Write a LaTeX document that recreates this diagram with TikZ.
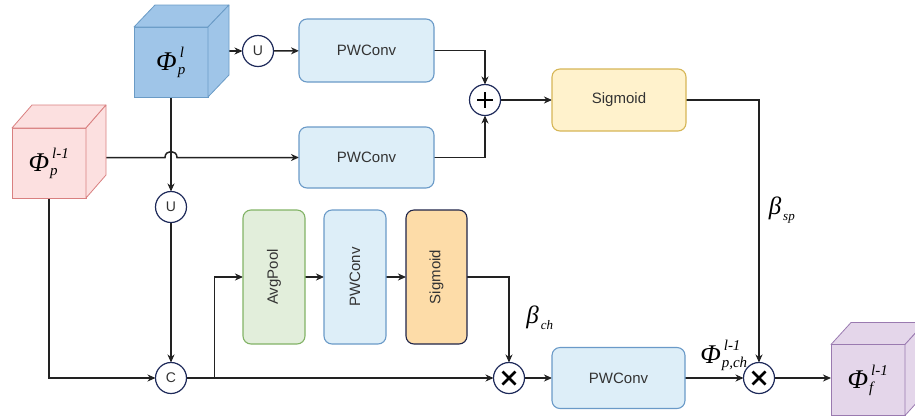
\documentclass[tikz,border=0pt]{standalone}
\usepackage{fontspec}
\setmainfont{Liberation Serif}
\setsansfont{Liberation Sans}
\usetikzlibrary{arrows.meta,calc}
\definecolor{lc}{HTML}{222222}
\definecolor{tc}{HTML}{333333}
\definecolor{pwf}{HTML}{DDEEF8}
\definecolor{pwd}{HTML}{6A9AC8}
\definecolor{sgf}{HTML}{FFF2CC}
\definecolor{sgd}{HTML}{D6B656}
\definecolor{avf}{HTML}{E2EEDB}
\definecolor{avd}{HTML}{82B366}
\definecolor{sof}{HTML}{FDDCA8}
\definecolor{sod}{HTML}{1F2448}
\definecolor{opd}{HTML}{1E2A5A}
\definecolor{bcf}{HTML}{9FC5E8}
\definecolor{bcd}{HTML}{6A9BC6}
\definecolor{pcf}{HTML}{FCE0E0}
\definecolor{pcd}{HTML}{D98080}
\definecolor{fcf}{HTML}{E4D6EA}
\definecolor{fcd}{HTML}{9A7AB0}
\newcommand\PhiLab[2]{$\hbox{\fontsize{27}{27}\selectfont\itshape Φ}^{\hbox{\kern3pt\fontsize{15}{15}\selectfont\itshape #1}}_{\hbox{\kern1pt\fontsize{15}{15}\selectfont\itshape #2}}$}
\newcommand\BetaLab[1]{$\hbox{\fontsize{25}{25}\selectfont\itshape β}_{\hbox{\kern2pt\fontsize{13}{13}\selectfont\itshape #1}}$}
\pgfdeclarelayer{bg}
\pgfsetlayers{bg,main}
\begin{document}
\begin{tikzpicture}[x=1pt,y=-1pt,
  line/.style={draw=lc, line width=1.5pt},
  arr/.style={line, -{Stealth[length=8pt,width=7pt,inset=2.5pt]}},
  box/.style={rounded corners=8pt, line width=1.1pt, font=\sffamily\fontsize{15}{17}\selectfont, text=tc, inner sep=0pt, outer sep=0pt},
  pw/.style={box, fill=pwf, draw=pwd},
  op/.style={circle, draw=opd, fill=white, line width=1.2pt, minimum size=31pt, inner sep=0pt, outer sep=0pt, font=\sffamily\fontsize{14}{14}\selectfont, text=tc},
  cubef/.style={line width=0.8pt, minimum width=74pt, minimum height=70pt, inner sep=0pt, outer sep=0pt, font=\fontsize{15}{15}\selectfont},
  cubes/.style={line width=0.8pt, line join=round},
  mlab/.style={inner sep=0pt, font=\fontsize{15}{15}\selectfont}]
\useasboundingbox (0,0) rectangle (915,416);
\clip (0,0) rectangle (915,416);
% cubes
\node[cubef, fill=bcf, draw=bcd] (bc) at (171,62) {\PhiLab{l}{p}};
\draw[cubes, fill=bcf, draw=bcd] (bc.north west) -- ++(21,-22) -- ++(74,0) -- (bc.north east) -- cycle;
\draw[cubes, fill=bcf, draw=bcd] (bc.north east) -- ++(21,-22) -- ++(0,70) -- (bc.south east) -- cycle;
\node[cubef, fill=pcf, draw=pcd] (pc) at (49,163) {\PhiLab{l-1}{p}};
\draw[cubes, fill=pcf, draw=pcd] (pc.north west) -- ++(20,-23) -- ++(74,0) -- (pc.north east) -- cycle;
\draw[cubes, fill=pcf, draw=pcd] (pc.north east) -- ++(20,-23) -- ++(0,70) -- (pc.south east) -- cycle;
\node[cubef, fill=fcf, draw=fcd, minimum height=71pt] (fc) at (868,380) {\PhiLab{l-1}{f}};
\draw[cubes, fill=fcf, draw=fcd] (fc.north west) -- ++(20,-22) -- ++(74,0) -- (fc.north east) -- cycle;
\draw[cubes, fill=fcf, draw=fcd] (fc.north east) -- ++(20,-22) -- ++(0,71) -- (fc.south east) -- cycle;
% boxes
\node[pw, minimum width=135pt, minimum height=63pt] (pw1) at (366.5,50.5) {PWConv};
\node[pw, minimum width=135pt, minimum height=61pt] (pw2) at (366.5,157.5) {PWConv};
\node[box, fill=sgf, draw=sgd, minimum width=134pt, minimum height=62pt] (sg1) at (619,100) {Sigmoid};
\node[box, fill=avf, draw=avd, minimum width=62pt, minimum height=134pt] (avg) at (274,277) {\rotatebox{90}{AvgPool}};
\node[pw, minimum width=62pt, minimum height=134pt] (pwv) at (355,277) {\rotatebox{90}{PWConv}};
\node[box, fill=sof, draw=sod, minimum width=61pt, minimum height=134pt] (sg2) at (436.5,277) {\rotatebox{90}{Sigmoid}};
\node[pw, minimum width=133pt, minimum height=61pt] (pw3) at (618.5,378) {PWConv};
% operators
\node[op] (u1) at (258,51) {U};
\node[op] (u2) at (171,207) {U};
\node[op] (c) at (171,378) {C};
\node[op] (plus) at (485,100) {};
\node[op] (x1) at (509,378) {};
\node[op] (x2) at (759,378) {};
\draw[line width=2.6pt, draw=black] ($(plus)+(-8,0)$) -- ($(plus)+(8,0)$) ($(plus)+(0,-8)$) -- ($(plus)+(0,8)$);
\foreach \n in {x1,x2}{
  \draw[line width=2.6pt, draw=black] ($(\n)+(-6.5,-6.5)$) -- ($(\n)+(6.5,6.5)$) ($(\n)+(-6.5,6.5)$) -- ($(\n)+(6.5,-6.5)$);
}
% labels
\node[mlab] (bsp) at (782,210) {\BetaLab{sp}};
\node[mlab] (bch) at (540,318) {\BetaLab{ch}};
\node[mlab] (pch) at (724,355) {\PhiLab{l-1}{p,ch}};
% connectors
\coordinate (h1) at ($(bc.south |- pw2.west)+(-6,0)$);
\coordinate (h2) at ($(bc.south |- pw2.west)+(6,0)$);
\coordinate (br) at ($(c.east)+(28,0)$);
\begin{pgfonlayer}{bg}
\draw[arr] (bc.east |- u1.west) -- (u1);
\draw[arr] (u1) -- (pw1);
\draw[arr] (pw1.east) -| (plus.north);
\draw[arr] (pw2.east) -| (plus.south);
\draw[arr] (plus) -- (sg1);
\draw[arr] (pc.east |- pw2.west) -- (h1) .. controls +(0,-8) and +(0,-8) .. (h2) -- (pw2.west);
\draw[arr] (bc.south) -- (u2);
\draw[arr] (u2) -- (c);
\draw[arr] (pc.south) |- (c.west);
\draw[arr] (c) -- (x1);
\draw[arr] (br) |- (avg.west);
\draw[arr] (avg) -- (pwv);
\draw[arr] (pwv) -- (sg2);
\draw[arr] (sg2.east) -| (x1.north);
\draw[arr] (x1) -- (pw3);
\draw[arr] (pw3) -- (x2);
\draw[arr] (sg1.east) -| (x2.north);
\draw[arr] (x2) -- (fc.west |- x2.east);
\end{pgfonlayer}
\end{tikzpicture}
\end{document}
